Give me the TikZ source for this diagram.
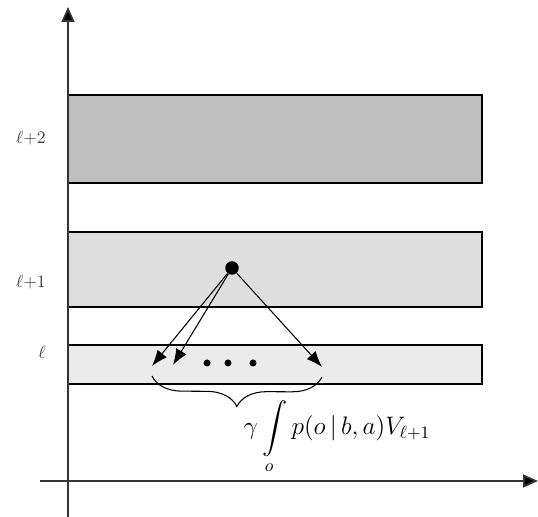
\documentclass[tikz,border=0pt]{standalone}
\usepackage{amsmath}
\usetikzlibrary{arrows.meta, decorations.pathreplacing, calc}

\begin{document}
\begin{tikzpicture}[
      >=Latex,
      band/.style={rectangle, draw=black, line width=0.8pt, anchor=south west, inner sep=0pt, outer sep=0pt, minimum width=8.28cm},
      axis/.style={-{Triangle[length=0.3cm,width=0.26cm,fill=black]}, line width=1pt, draw=black!80},
      arrow/.style={-{Latex[length=0.32cm,width=0.24cm]}, line width=0.6pt},
      lvl/.style={anchor=east, font=\normalsize, text=black!75}
  ]
  \useasboundingbox (0,0) rectangle (10.76,10.34);

  % Bands
  \node[band, fill=black!25, minimum height=1.76cm] (band2) at (1.36,6.68) {};
  \node[band, fill=black!13, minimum height=1.5cm] (band1) at (1.36,4.2) {};
  \node[band, fill=black!8, minimum height=0.78cm] (band0) at (1.36,2.66) {};

  % Axes
  \coordinate (ybot) at (1.36,0);
  \coordinate (ytop) at (1.36,10.2);
  \coordinate (xleft) at (0.8,0.72);
  \coordinate (xright) at (10.76,0.72);
  \draw[axis] (ybot) -- (ytop);
  \draw[axis] (xleft) -- (xright);

  % Levels
  \node[lvl] (lab2) at (1.04,7.58) {$\ell{+}2$};
  \node[lvl] (lab1) at (1.04,4.7) {$\ell{+}1$};
  \node[lvl] (lab0) at (1.04,3.3) {$\ell$};

  % Belief point and successors
  \node[circle, fill=black, inner sep=0pt, minimum size=0.27cm] (b) at (4.64,4.98) {};
  \coordinate (o1) at (3.04,3.02);
  \coordinate (o2) at (3.46,3.04);
  \coordinate (on) at (6.44,3.0);
  \draw[arrow] (b) -- (o1);
  \draw[arrow] (b) -- (o2);
  \draw[arrow] (b) -- (on);
  \foreach \x in {4.14,4.56,5.06}
    \fill (\x,3.08) circle (0.07);

  % Brace and value
  \draw[decorate, decoration={brace, mirror, amplitude=0.6cm}, line width=0.6pt] ($(o1)+(0,-0.2)$) -- ($(on)+(0,-0.2)$);
  \node (val) at (6.74,1.6) {\Large$\displaystyle \gamma\int\limits_{o} p(o\,|\,b,a)V_{\ell+1}$};

\end{tikzpicture}
\end{document}
